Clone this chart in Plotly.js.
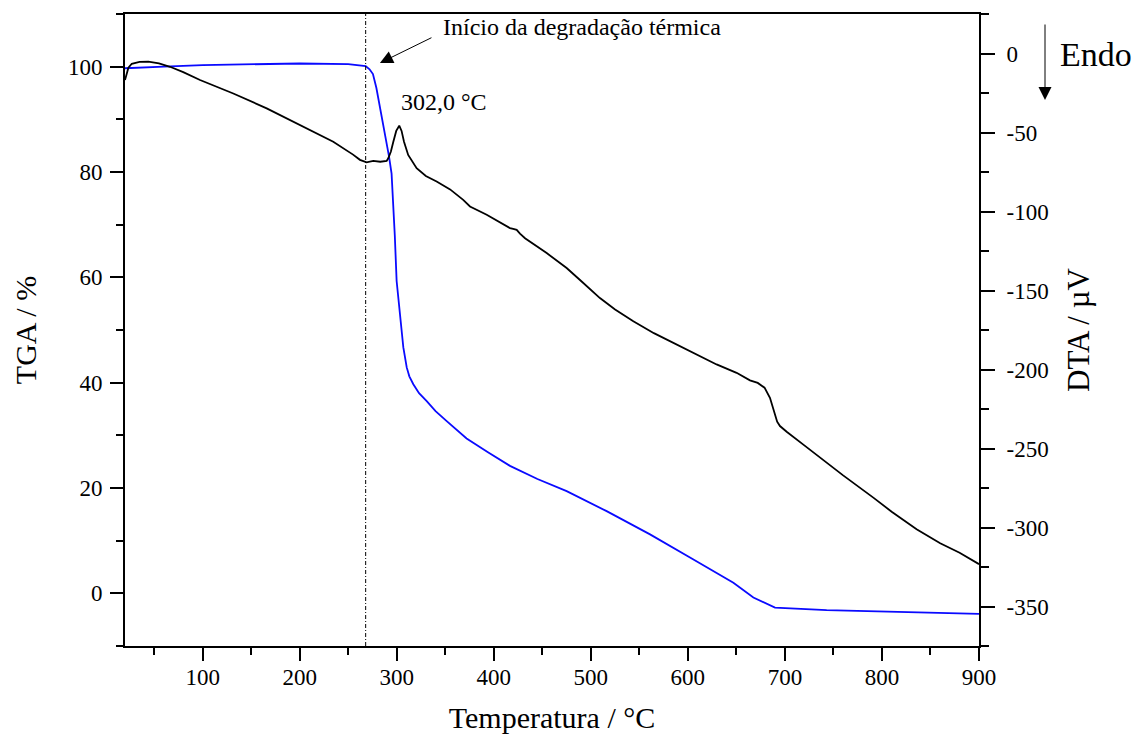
<!DOCTYPE html>
<html>
<head>
<meta charset="utf-8">
<script src="https://cdn.plot.ly/plotly-3.0.1.min.js"></script>
<style>html,body{margin:0;padding:0;background:#fff;}#chart{width:1135px;height:744px;}</style>
</head>
<body>
<div id="chart"></div>
<script>
// TGA curve (blue), left axis, %
const tgaTemp = [20, 30, 60, 100, 150, 200, 250, 262, 268, 272, 275.5, 279, 282.7, 286, 289.6, 292, 294.7, 296.4, 298, 299.9, 303.4, 306.8, 310.3, 313, 317.1, 323, 330.9, 340, 351.5, 372, 394, 416.7, 445, 475.1, 516.3, 561, 602.2, 646.9, 667.5, 689.8, 743, 818.5, 900];
const tgaMass = [99.7, 99.8, 100.0, 100.3, 100.5, 100.6, 100.5, 100.3, 100.1, 99.5, 98.6, 96.0, 92.2, 89.0, 85.9, 83.0, 79.7, 74.5, 68.0, 59.3, 53.0, 46.7, 42.9, 41.2, 39.7, 38.0, 36.5, 34.6, 32.7, 29.4, 26.8, 24.2, 21.7, 19.4, 15.6, 11.2, 6.8, 2.0, -0.8, -2.7, -3.2, -3.6, -3.9];

// DTA curve (black), right axis, µV
const dtaTemp = [20, 23.5, 27, 35, 44, 55, 66.4, 80, 97.3, 131.6, 166, 200.3, 234.6, 255, 262.1, 269, 275.8, 283, 289.6, 291.3, 294, 296.5, 299.5, 302.6, 305, 307.5, 311.8, 320.5, 330, 341.1, 355, 368.5, 375.5, 392.7, 405, 416.7, 420, 423.6, 427, 432.2, 454.5, 475.1, 490, 509.4, 525, 543.8, 565, 588.4, 610, 629.6, 650.2, 664, 672, 679, 684.6, 687.5, 689.8, 692, 694.9, 701.8, 720, 736.1, 760, 791.1, 810, 835.7, 860, 880, 900];
const dtaSignal = [-16.8, -9, -6.5, -5.3, -5.2, -6.3, -8.4, -11.8, -16.8, -25.3, -34.7, -45.2, -55.8, -64, -67.3, -68.9, -68, -68.5, -68, -66.3, -62, -55.8, -49, -45.7, -49, -55.8, -64.2, -72.6, -77.5, -81, -86, -92.6, -96.8, -102.1, -106.5, -110.5, -111, -111.6, -114, -116.9, -126.3, -135.8, -144, -154.8, -162, -169.5, -177, -184.2, -191, -196.8, -202.1, -206.9, -208.5, -211.5, -217.9, -224, -228.4, -233, -235.8, -239.4, -248, -255.8, -267, -281.1, -290, -301.1, -310, -316, -323.2];

// Axis ticks
const tempTicks = [100, 200, 300, 400, 500, 600, 700, 800, 900];
const tgaTicks = [0, 20, 40, 60, 80, 100];
const dtaTickVals = [0, -50, -100, -150, -200, -250, -300, -350];
const dtaTickText = ["0", "-50", "-100", "-150", "-200", "-250", "-300", "-350"];

// Annotated values
const onsetTemp = 268;
const peakTemp = 302.0;
const peakLabel = "302,0 °C";

const FONT = "Liberation Serif, Times New Roman, serif";

const traces = [
  {x: tgaTemp, y: tgaMass, type: 'scatter', mode: 'lines', yaxis: 'y',
   line: {color: '#0a0aff', width: 1.8}, name: 'TGA', hoverinfo: 'x+y'},
  {x: dtaTemp, y: dtaSignal, type: 'scatter', mode: 'lines', yaxis: 'y2',
   line: {color: '#000000', width: 1.8}, name: 'DTA', hoverinfo: 'x+y'}
];

const layout = {
  width: 1135, height: 744,
  margin: {l: 125, r: 156, t: 14, b: 98, pad: 0},
  paper_bgcolor: '#fff', plot_bgcolor: '#fff',
  showlegend: false,
  font: {family: FONT, size: 23, color: '#000'},
  xaxis: {
    range: [20, 900], tickmode: 'array', tickvals: tempTicks,
    ticks: 'outside', ticklen: 13, tickwidth: 2, tickcolor: '#000',
    minor: {dtick: 50, tick0: 0, ticks: 'outside', ticklen: 7, tickwidth: 2, tickcolor: '#000', showgrid: false},
    showline: true, linewidth: 2, linecolor: '#000', mirror: true,
    showgrid: false, zeroline: false,
    tickfont: {family: FONT, size: 23, color: '#000'},
    ticklabelstandoff: -4,
    title: {text: 'Temperatura / °C', font: {family: FONT, size: 30, color: '#000'}, standoff: 18},
    automargin: false
  },
  yaxis: {
    range: [-10, 110], tickmode: 'array', tickvals: tgaTicks,
    ticks: 'outside', ticklen: 13, tickwidth: 2, tickcolor: '#000',
    minor: {dtick: 10, tick0: 0, ticks: 'outside', ticklen: 7, tickwidth: 2, tickcolor: '#000', showgrid: false},
    showline: true, linewidth: 2, linecolor: '#000',
    showgrid: false, zeroline: false,
    tickfont: {family: FONT, size: 23, color: '#000'},
    ticklabelstandoff: 3,
    title: {text: 'TGA / %', font: {family: FONT, size: 30, color: '#000'}, standoff: 22},
    automargin: false
  },
  yaxis2: {
    overlaying: 'y', side: 'right',
    range: [-375, 25], tickmode: 'array', tickvals: dtaTickVals, ticktext: dtaTickText,
    ticks: 'outside', ticklen: 14, tickwidth: 2, tickcolor: '#000',
    minor: {dtick: 25, tick0: 0, ticks: 'outside', ticklen: 8, tickwidth: 2, tickcolor: '#000', showgrid: false},
    showline: true, linewidth: 2, linecolor: '#000',
    showgrid: false, zeroline: false,
    tickfont: {family: FONT, size: 23, color: '#000'},
    ticklabelstandoff: 7,
    title: {text: 'DTA / µV', font: {family: FONT, size: 31, color: '#000'}, standoff: 20},
    automargin: false
  },
  shapes: [
    {type: 'line', xref: 'x', yref: 'paper', x0: onsetTemp, x1: onsetTemp, y0: 0, y1: 1,
     line: {color: '#000', width: 1, dash: '4px,2px,1px,2px'}}
  ],
  annotations: [
    {xref: 'x', yref: 'y', x: 345.5, y: 107.6, xanchor: 'left', yanchor: 'middle',
     text: 'Início da degradação térmica', showarrow: false,
     font: {family: FONT, size: 24, color: '#000'}},
    {xref: 'x', yref: 'y', x: 282.7, y: 100.7, text: '', showarrow: true,
     ax: 53, ay: -26, arrowhead: 2, arrowsize: 2.6, arrowwidth: 1, arrowcolor: '#000'},
    {xref: 'x', yref: 'y2', x: peakTemp, y: -31, xanchor: 'left', yanchor: 'middle',
     text: peakLabel, showarrow: false,
     font: {family: FONT, size: 24, color: '#000'}},
    {xref: 'paper', yref: 'paper', x: 1.0773, y: 0.8639, text: '', showarrow: true,
     ax: 0, ay: -77, arrowhead: 2, arrowsize: 2.6, arrowwidth: 1, arrowcolor: '#000'},
    {xref: 'paper', yref: 'paper', x: 1.0925, y: 0.9367, xanchor: 'left', yanchor: 'middle',
     text: 'Endo', showarrow: false,
     font: {family: FONT, size: 34, color: '#000'}}
  ]
};

Plotly.newPlot('chart', traces, layout, {displayModeBar: false, staticPlot: true});
</script>
</body>
</html>
